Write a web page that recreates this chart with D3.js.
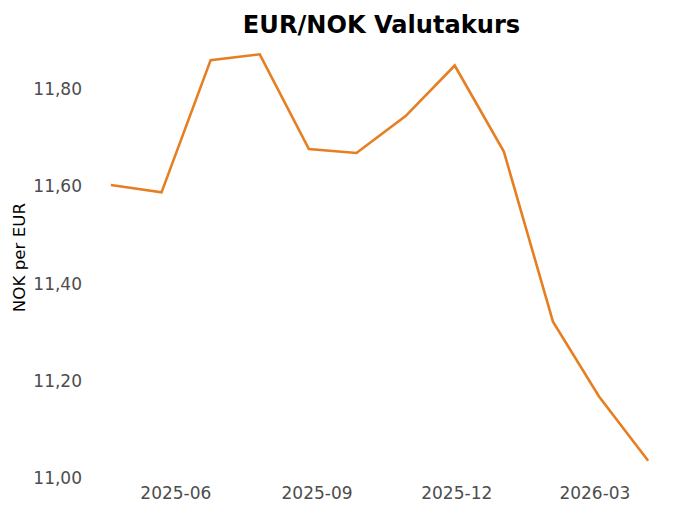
<!DOCTYPE html>
<html>
<head>
<meta charset="utf-8">
<script src="https://cdn.jsdelivr.net/npm/d3@7"></script>
<style>
  html, body { margin: 0; padding: 0; background: #fff; }
  svg { display: block; font-family: "DejaVu Sans", sans-serif; }
</style>
</head>
<body>
<svg id="chart" width="680" height="510"></svg>
<script>
const dates = ["2025-04-20","2025-05-23","2025-06-24","2025-07-26","2025-08-27","2025-09-27","2025-10-29","2025-11-30","2026-01-01","2026-02-02","2026-03-04","2026-04-05"];
const rates = [11.603, 11.588, 11.860, 11.872, 11.677, 11.669, 11.745, 11.849, 11.672, 11.322, 11.168, 11.036];
const xTickDates = ["2025-06-01","2025-09-01","2025-12-01","2026-03-01"];
const yTicks = [11.0, 11.2, 11.4, 11.6, 11.8];
const title = "EUR/NOK Valutakurs";
const yLabel = "NOK per EUR";

const parse = d3.utcParse("%Y-%m-%d");
const data = dates.map((d, i) => ({ date: parse(d), value: rates[i] }));

const svg = d3.select("#chart");
const margin = { left: 84, right: 5, top: 34, bottom: 29 };
const W = 680, H = 510;

const xExt = d3.extent(data, d => d.date);
const xPad = (xExt[1] - xExt[0]) * 0.05;
const x = d3.scaleUtc()
  .domain([new Date(+xExt[0] - xPad), new Date(+xExt[1] + xPad)])
  .range([margin.left, W - margin.right]);

const yExt = d3.extent(rates);
const yPad = (yExt[1] - yExt[0]) * 0.05;
const y = d3.scaleLinear()
  .domain([yExt[0] - yPad, yExt[1] + yPad])
  .range([H - margin.bottom, margin.top]);

const nb = d3.formatLocale({ decimal: ",", thousands: " ", grouping: [3], currency: ["", " kr"] });
const fmt = nb.format(".2f");

// Y axis
const yAxis = svg.append("g")
  .attr("transform", `translate(${margin.left},0)`)
  .call(d3.axisLeft(y).tickValues(yTicks).tickFormat(fmt).tickSize(0).tickPadding(2));
yAxis.select(".domain").remove();
yAxis.selectAll("text")
  .attr("fill", "#4d4d4d")
  .style("font-size", "17px")
  .style("font-family", "DejaVu Sans");

// X axis
const xAxis = svg.append("g")
  .attr("transform", `translate(0,${H - margin.bottom})`)
  .call(d3.axisBottom(x).tickValues(xTickDates.map(parse)).tickFormat(d3.utcFormat("%Y-%m")).tickSize(0).tickPadding(6));
xAxis.select(".domain").remove();
xAxis.selectAll("text")
  .attr("fill", "#4d4d4d")
  .style("font-size", "17px")
  .style("font-family", "DejaVu Sans");

// Line
const line = d3.line().x(d => x(d.date)).y(d => y(d.value));
svg.append("path")
  .datum(data)
  .attr("fill", "none")
  .attr("stroke", "#E67E22")
  .attr("stroke-width", 2.6)
  .attr("stroke-linejoin", "miter")
  .attr("d", line);

// Title
svg.append("text")
  .attr("x", (margin.left + W - margin.right) / 2 + 2)
  .attr("y", 33)
  .attr("text-anchor", "middle")
  .style("font-family", "DejaVu Sans")
  .style("font-weight", "bold")
  .style("font-size", "24.1px")
  .attr("fill", "#000")
  .text(title);

// Y label
svg.append("text")
  .attr("transform", `translate(25,${(margin.top + H - margin.bottom) / 2}) rotate(-90)`)
  .attr("text-anchor", "middle")
  .style("font-family", "DejaVu Sans")
  .style("font-size", "16.7px")
  .attr("fill", "#000")
  .text(yLabel);
</script>
</body>
</html>
